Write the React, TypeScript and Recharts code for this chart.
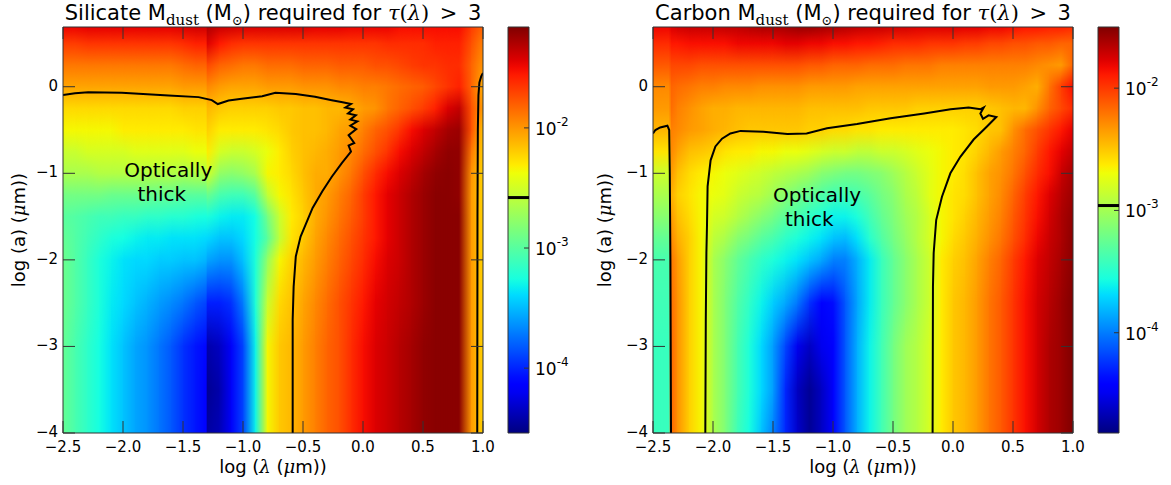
import React from "react";
import {
  ComposedChart,
  XAxis,
  YAxis,
  Line,
  ReferenceArea,
  ReferenceLine,
  ReferenceDot,
} from "recharts";

const FONT = "'DejaVu Sans', Verdana, sans-serif";
const MATH = "'DejaVu Serif', 'Liberation Serif', serif";
const EDGE = "#333333";

// ---- axes: log(lambda / um) and log(a / um) ----
const X_TICKS = [-2.5, -2.0, -1.5, -1.0, -0.5, 0.0, 0.5, 1.0];
const Y_TICKS = [-4, -3, -2, -1, 0];
const X_DOMAIN: [number, number] = [-2.5, 1.0];
const Y_DOMAIN: [number, number] = [-4, 0.69];
const CBAR_TICKS = [-4, -3, -2];

// grain size rows (log a), top to bottom
const A_ROWS = [0.7, 0.5, 0.25, 0, -0.25, -0.5, -0.75, -1, -1.25, -1.5, -1.75, -2, -2.5, -3, -3.5, -4];

// ---- silicate: log10 M_dust (Msun) ----
const SIL_LAMBDA = [
  -2.5, -2.4, -2.3, -2.2, -2.1, -2.0, -1.9, -1.8, -1.7, -1.6, -1.5, -1.4, -1.31,
  -1.3, -1.2, -1.1, -1.0, -0.9, -0.8, -0.7, -0.6,
  -0.5, -0.4, -0.3, -0.2, -0.1, 0.0, 0.1, 0.2, 0.3, 0.4, 0.5, 0.6, 0.7, 0.8,
  0.9, 1.0,
];
const SIL_LOGM = [
  [-1.48,-1.48,-1.46,-1.46,-1.46,-1.46,-1.46,-1.46,-1.46,-1.46,-1.43,-1.40,-1.40, -1.30,-1.38,-1.40,-1.43,-1.43,-1.43,-1.43,-1.43, -1.43,-1.46,-1.46,-1.46,-1.48,-1.48,-1.48,-1.48,-1.51,-1.51,-1.51,-1.51,-1.51,-1.51, -1.68,-1.82],
  [-1.68,-1.68,-1.65,-1.65,-1.65,-1.65,-1.65,-1.65,-1.65,-1.65,-1.62,-1.58,-1.58, -1.43,-1.55,-1.62,-1.65,-1.65,-1.65,-1.65,-1.65, -1.65,-1.65,-1.65,-1.65,-1.65,-1.65,-1.65,-1.62,-1.62,-1.62,-1.62,-1.58,-1.58,-1.58, -1.75,-1.92],
  [-1.89,-1.89,-1.89,-1.89,-1.89,-1.89,-1.89,-1.89,-1.89,-1.89,-1.85,-1.82,-1.82, -1.72,-1.82,-1.85,-1.89,-1.89,-1.85,-1.85,-1.85, -1.82,-1.82,-1.82,-1.79,-1.79,-1.79,-1.75,-1.75,-1.72,-1.68,-1.65,-1.65,-1.62,-1.62, -1.82,-1.99],
  [-2.05,-2.05,-2.05,-2.05,-2.05,-2.05,-2.05,-2.05,-2.05,-2.05,-2.02,-2.02,-2.02, -1.95,-2.02,-2.05,-2.05,-2.05,-2.02,-2.02,-2.02, -1.99,-1.99,-1.99,-1.95,-1.95,-1.92,-1.92,-1.89,-1.85,-1.82,-1.79,-1.72,-1.65,-1.58, -1.82,-2.08],
  [-2.24,-2.24,-2.24,-2.24,-2.24,-2.24,-2.24,-2.24,-2.24,-2.24,-2.21,-2.21,-2.21, -2.12,-2.18,-2.21,-2.21,-2.21,-2.21,-2.18,-2.18, -2.15,-2.15,-2.12,-2.12,-2.08,-2.02,-1.99,-1.89,-1.82,-1.75,-1.68,-1.58,-1.43,-1.35, -1.75,-2.02],
  [-2.35,-2.35,-2.35,-2.35,-2.35,-2.31,-2.31,-2.31,-2.31,-2.31,-2.31,-2.28,-2.28, -2.21,-2.31,-2.31,-2.31,-2.31,-2.28,-2.24,-2.18, -2.15,-2.15,-2.12,-2.05,-2.02,-1.92,-1.82,-1.75,-1.65,-1.51,-1.43,-1.35,-1.27,-1.24, -1.75,-2.15],
  [-2.53,-2.53,-2.48,-2.48,-2.48,-2.48,-2.44,-2.44,-2.44,-2.44,-2.44,-2.39,-2.39, -2.31,-2.48,-2.53,-2.53,-2.48,-2.39,-2.31,-2.21, -2.15,-2.12,-2.08,-2.02,-1.95,-1.85,-1.75,-1.65,-1.51,-1.43,-1.35,-1.27,-1.21,-1.21, -1.89,-2.18],
  [-2.66,-2.66,-2.66,-2.62,-2.62,-2.62,-2.62,-2.62,-2.62,-2.62,-2.66,-2.62,-2.62, -2.48,-2.75,-2.79,-2.75,-2.66,-2.35,-2.31,-2.24, -2.15,-2.08,-2.08,-1.99,-1.89,-1.75,-1.62,-1.51,-1.43,-1.35,-1.27,-1.21,-1.19,-1.21, -1.99,-2.21],
  [-2.88,-2.88,-2.88,-2.88,-2.92,-2.92,-2.92,-2.92,-2.95,-2.95,-2.99,-2.99,-2.99, -2.92,-3.06,-3.10,-3.10,-2.99,-2.57,-2.35,-2.28, -2.18,-2.08,-2.02,-1.92,-1.82,-1.68,-1.55,-1.46,-1.38,-1.30,-1.24,-1.19,-1.19,-1.21, -2.02,-2.21],
  [-2.99,-3.02,-3.06,-3.10,-3.10,-3.13,-3.13,-3.17,-3.17,-3.20,-3.20,-3.24,-3.26, -3.24,-3.31,-3.34,-3.34,-3.27,-2.88,-2.53,-2.31, -2.21,-2.08,-1.99,-1.89,-1.79,-1.68,-1.55,-1.46,-1.38,-1.30,-1.24,-1.19,-1.19,-1.19, -2.02,-2.21],
  [-2.95,-3.02,-3.10,-3.17,-3.24,-3.27,-3.31,-3.34,-3.34,-3.37,-3.37,-3.37,-3.40, -3.40,-3.47,-3.47,-3.40,-3.27,-2.99,-2.57,-2.28, -2.18,-2.05,-1.95,-1.85,-1.75,-1.65,-1.55,-1.46,-1.38,-1.30,-1.24,-1.19,-1.19,-1.19, -2.02,-2.21],
  [-2.92,-3.02,-3.13,-3.24,-3.31,-3.37,-3.40,-3.40,-3.44,-3.44,-3.47,-3.47,-3.52, -3.57,-3.63,-3.63,-3.47,-3.24,-2.75,-2.35,-2.21, -2.12,-2.02,-1.92,-1.82,-1.72,-1.62,-1.51,-1.43,-1.38,-1.30,-1.24,-1.19,-1.19,-1.19, -2.02,-2.21],
  [-2.92,-3.02,-3.13,-3.24,-3.34,-3.40,-3.47,-3.53,-3.60,-3.66,-3.73,-3.83,-3.90, -4.02,-4.02,-3.96,-3.70,-3.24,-2.53,-2.24,-2.15, -2.05,-1.95,-1.85,-1.75,-1.65,-1.55,-1.46,-1.40,-1.35,-1.30,-1.24,-1.19,-1.19,-1.19, -2.02,-2.21],
  [-2.95,-3.06,-3.17,-3.27,-3.37,-3.47,-3.57,-3.63,-3.73,-3.83,-3.96,-4.05,-4.10, -4.41,-4.35,-4.18,-3.89,-3.31,-2.35,-2.18,-2.12, -2.02,-1.92,-1.82,-1.75,-1.62,-1.51,-1.43,-1.38,-1.32,-1.27,-1.21,-1.19,-1.19,-1.19, -2.02,-2.21],
  [-2.95,-3.06,-3.17,-3.27,-3.37,-3.47,-3.57,-3.63,-3.73,-3.83,-3.96,-4.05,-4.12, -4.48,-4.41,-4.18,-3.89,-3.31,-2.35,-2.18,-2.12, -2.02,-1.92,-1.82,-1.75,-1.62,-1.51,-1.43,-1.38,-1.32,-1.27,-1.21,-1.19,-1.19,-1.19, -2.02,-2.21],
  [-2.95,-3.06,-3.17,-3.27,-3.37,-3.47,-3.57,-3.63,-3.73,-3.83,-3.96,-4.05,-4.12, -4.44,-4.38,-4.18,-3.89,-3.31,-2.35,-2.18,-2.12, -2.02,-1.92,-1.82,-1.75,-1.62,-1.51,-1.43,-1.38,-1.32,-1.27,-1.21,-1.19,-1.19,-1.19, -2.02,-2.21],
];
const SIL_RANGE: [number, number] = [-4.54, -1.16];
const SIL_LIMIT = -2.58;

// ---- carbon ----
const CAR_LAMBDA = [
  -2.5, -2.37, -2.35, -2.3, -2.2, -2.1, -2.0, -1.9, -1.8, -1.7, -1.6, -1.5,
  -1.4, -1.3, -1.2, -1.1, -1.0, -0.9, -0.8, -0.7, -0.6, -0.5, -0.4, -0.3,
  -0.2, -0.1, 0.0, 0.1, 0.2, 0.3, 0.4, 0.5, 0.6, 0.7, 0.8, 0.9, 1.0,
];
const CAR_LOGM = [
  [-1.82,-1.82,-1.77,-1.74,-1.71,-1.71,-1.71,-1.69,-1.69,-1.66,-1.63,-1.63,-1.61,-1.58,-1.58,-1.61,-1.63,-1.66,-1.69,-1.71,-1.71,-1.74,-1.74,-1.77,-1.77,-1.77,-1.77,-1.79,-1.79,-1.82,-1.82,-1.85,-1.88,-1.88,-1.91,-1.91,-1.95],
  [-1.95,-1.95,-1.88,-1.88,-1.85,-1.85,-1.85,-1.85,-1.82,-1.82,-1.82,-1.82,-1.79,-1.79,-1.82,-1.82,-1.85,-1.85,-1.88,-1.88,-1.91,-1.95,-1.95,-1.95,-1.98,-1.98,-1.98,-2.01,-2.01,-2.05,-2.05,-2.08,-2.08,-2.11,-2.11,-2.15,-2.15],
  [-2.11,-2.11,-2.05,-2.05,-2.05,-2.08,-2.08,-2.08,-2.08,-2.08,-2.08,-2.08,-2.08,-2.08,-2.11,-2.11,-2.15,-2.15,-2.15,-2.18,-2.18,-2.18,-2.21,-2.21,-2.21,-2.25,-2.25,-2.25,-2.25,-2.25,-2.25,-2.25,-2.25,-2.28,-2.31,-2.34,-2.15],
  [-2.28,-2.28,-2.15,-2.18,-2.21,-2.25,-2.25,-2.28,-2.28,-2.28,-2.31,-2.31,-2.31,-2.31,-2.34,-2.34,-2.34,-2.34,-2.37,-2.37,-2.37,-2.37,-2.37,-2.37,-2.37,-2.37,-2.37,-2.37,-2.37,-2.34,-2.34,-2.34,-2.37,-2.41,-2.21,-2.01,-1.85],
  [-2.34,-2.34,-2.18,-2.25,-2.31,-2.37,-2.41,-2.41,-2.44,-2.44,-2.44,-2.44,-2.44,-2.44,-2.47,-2.47,-2.47,-2.47,-2.47,-2.50,-2.50,-2.50,-2.50,-2.53,-2.53,-2.53,-2.53,-2.53,-2.53,-2.50,-2.47,-2.44,-2.44,-2.31,-2.15,-2.05,-1.95],
  [-2.44,-2.44,-2.25,-2.28,-2.34,-2.37,-2.41,-2.44,-2.47,-2.50,-2.50,-2.50,-2.50,-2.50,-2.53,-2.53,-2.57,-2.57,-2.60,-2.60,-2.63,-2.63,-2.63,-2.63,-2.63,-2.63,-2.63,-2.60,-2.57,-2.50,-2.47,-2.31,-2.18,-2.08,-1.98,-1.88,-1.79],
  [-2.60,-2.60,-2.28,-2.37,-2.47,-2.50,-2.53,-2.60,-2.63,-2.63,-2.67,-2.67,-2.71,-2.71,-2.75,-2.80,-2.84,-2.84,-2.89,-2.89,-2.84,-2.84,-2.80,-2.75,-2.71,-2.67,-2.63,-2.60,-2.53,-2.44,-2.34,-2.25,-2.15,-2.01,-1.88,-1.79,-1.69],
  [-2.84,-2.84,-2.34,-2.47,-2.57,-2.63,-2.67,-2.71,-2.75,-2.80,-2.84,-2.89,-2.93,-2.97,-3.02,-3.11,-3.15,-3.19,-3.19,-3.15,-3.11,-3.02,-2.93,-2.84,-2.75,-2.67,-2.63,-2.57,-2.47,-2.37,-2.31,-2.21,-2.08,-1.95,-1.85,-1.71,-1.61],
  [-2.97,-2.97,-2.41,-2.53,-2.60,-2.67,-2.71,-2.75,-2.84,-2.89,-2.93,-3.02,-3.11,-3.19,-3.26,-3.33,-3.40,-3.40,-3.37,-3.30,-3.19,-3.11,-2.97,-2.89,-2.75,-2.67,-2.60,-2.57,-2.47,-2.37,-2.28,-2.15,-2.01,-1.88,-1.77,-1.66,-1.58],
  [-3.11,-3.11,-2.34,-2.47,-2.57,-2.67,-2.80,-2.84,-2.93,-3.02,-3.11,-3.19,-3.30,-3.37,-3.47,-3.54,-3.61,-3.61,-3.54,-3.40,-3.26,-3.15,-3.02,-2.93,-2.80,-2.67,-2.60,-2.53,-2.44,-2.34,-2.25,-2.11,-1.98,-1.85,-1.74,-1.63,-1.55],
  [-3.26,-3.26,-2.28,-2.41,-2.53,-2.67,-2.89,-2.97,-3.11,-3.19,-3.30,-3.37,-3.47,-3.54,-3.61,-3.67,-3.77,-3.80,-3.67,-3.50,-3.33,-3.19,-3.06,-2.93,-2.80,-2.67,-2.57,-2.50,-2.41,-2.31,-2.21,-2.08,-1.95,-1.82,-1.71,-1.63,-1.53],
  [-3.37,-3.37,-2.21,-2.34,-2.53,-2.67,-2.97,-3.11,-3.26,-3.37,-3.47,-3.54,-3.61,-3.67,-3.77,-3.86,-3.99,-3.99,-3.83,-3.64,-3.43,-3.26,-3.11,-2.97,-2.84,-2.63,-2.53,-2.47,-2.37,-2.25,-2.15,-2.01,-1.88,-1.77,-1.69,-1.61,-1.53],
  [-3.40,-3.40,-2.18,-2.31,-2.53,-2.67,-2.97,-3.15,-3.33,-3.47,-3.61,-3.74,-3.86,-4.02,-4.25,-4.41,-4.37,-4.12,-3.86,-3.64,-3.43,-3.26,-3.11,-2.97,-2.84,-2.63,-2.50,-2.44,-2.34,-2.21,-2.11,-1.98,-1.85,-1.74,-1.66,-1.58,-1.50],
  [-3.43,-3.43,-2.15,-2.31,-2.53,-2.67,-2.97,-3.15,-3.37,-3.54,-3.70,-3.90,-4.18,-4.50,-4.63,-4.50,-4.41,-4.12,-3.83,-3.61,-3.40,-3.19,-3.02,-2.93,-2.80,-2.63,-2.50,-2.44,-2.34,-2.21,-2.11,-1.98,-1.85,-1.74,-1.63,-1.58,-1.50],
  [-3.43,-3.43,-2.15,-2.31,-2.53,-2.67,-2.97,-3.15,-3.37,-3.54,-3.70,-3.90,-4.28,-4.63,-4.76,-4.63,-4.44,-4.12,-3.83,-3.61,-3.40,-3.19,-3.02,-2.93,-2.80,-2.63,-2.50,-2.44,-2.34,-2.21,-2.11,-1.98,-1.85,-1.74,-1.63,-1.58,-1.50],
  [-3.43,-3.43,-2.15,-2.31,-2.53,-2.67,-2.97,-3.15,-3.40,-3.57,-3.77,-3.99,-4.28,-4.60,-4.76,-4.63,-4.44,-4.12,-3.83,-3.61,-3.40,-3.19,-3.02,-2.93,-2.80,-2.63,-2.50,-2.44,-2.34,-2.21,-2.11,-1.98,-1.85,-1.74,-1.63,-1.58,-1.50],
];
const CAR_RANGE: [number, number] = [-4.82, -1.5];
const CAR_LIMIT = -2.96;

// ---- tau = 3 contours, [log lambda, log a] ----
const SIL_CONTOUR_MAIN: [number, number][] = [
  [-2.5, -0.096], [-2.4, -0.076], [-2.29, -0.065], [-2.01, -0.07], [-1.62, -0.1], [-1.37, -0.12],
  [-1.26, -0.155], [-1.21, -0.2], [-1.12, -0.16], [-1.01, -0.14], [-0.84, -0.11], [-0.73, -0.07],
  [-0.56, -0.085], [-0.4, -0.115], [-0.26, -0.155], [-0.17, -0.18], [-0.1, -0.2], [-0.147, -0.24],
  [-0.083, -0.26], [-0.125, -0.31], [-0.06, -0.33], [-0.106, -0.38], [-0.047, -0.4], [-0.106, -0.45],
  [-0.056, -0.49], [-0.12, -0.56], [-0.073, -0.65], [-0.12, -0.68], [-0.1, -0.75], [-0.175, -0.88],
  [-0.26, -1.04], [-0.34, -1.21], [-0.42, -1.4], [-0.48, -1.6], [-0.52, -1.73], [-0.56, -1.96],
  [-0.578, -2.31], [-0.586, -2.69], [-0.586, -3.08], [-0.586, -4.0],
];
const SIL_CONTOUR_EDGE: [number, number][] = [
  [1.0, 0.16], [0.985, 0.12], [0.97, 0.05], [0.962, -0.1], [0.957, -0.5], [0.954, -1.5], [0.952, -4.0],
];
const CAR_CONTOUR_STRIP: [number, number][] = [
  [-2.5, -0.54], [-2.48, -0.5], [-2.44, -0.47], [-2.38, -0.45], [-2.365, -0.5], [-2.36, -1.0],
  [-2.355, -2.0], [-2.35, -4.0],
];
const CAR_CONTOUR_MAIN: [number, number][] = [
  [-2.064, -4.0], [-2.06, -2.69], [-2.055, -1.92], [-2.05, -1.6], [-2.045, -1.15], [-2.02, -0.85],
  [-1.98, -0.69], [-1.925, -0.6], [-1.855, -0.54], [-1.77, -0.51], [-1.58, -0.52], [-1.38, -0.545],
  [-1.22, -0.54], [-1.05, -0.48], [-0.8, -0.43], [-0.52, -0.365], [-0.24, -0.31], [-0.02, -0.26],
  [0.13, -0.24], [0.23, -0.26], [0.256, -0.24], [0.228, -0.31], [0.25, -0.37], [0.297, -0.33],
  [0.361, -0.35], [0.283, -0.46], [0.172, -0.61], [0.061, -0.81], [-0.022, -1.0], [-0.092, -1.27],
  [-0.14, -1.54], [-0.161, -1.92], [-0.167, -2.31], [-0.17, -4.0],
];

const SIL_NOTES = [
  { x: -1.99, y: -1.04, text: "Optically" },
  { x: -1.88, y: -1.32, text: "thick" },
];
const CAR_NOTES = [
  { x: -1.5, y: -1.33, text: "Optically" },
  { x: -1.4, y: -1.61, text: "thick" },
];

// ---- matplotlib jet ----
const JET_R = [[0, 0], [0.35, 0], [0.66, 1], [0.89, 1], [1, 0.5]];
const JET_G = [[0, 0], [0.125, 0], [0.375, 1], [0.64, 1], [0.91, 0], [1, 0]];
const JET_B = [[0, 0.5], [0.11, 1], [0.34, 1], [0.65, 0], [1, 0]];

function seg(pts: number[][], t: number) {
  for (let i = 1; i < pts.length; i++) {
    if (t <= pts[i][0]) {
      const [t0, v0] = pts[i - 1];
      const [t1, v1] = pts[i];
      return v0 + ((v1 - v0) * (t - t0)) / (t1 - t0);
    }
  }
  return pts[pts.length - 1][1];
}

function jet(t: number) {
  const c = Math.max(0, Math.min(1, t));
  const k = (v: number) => Math.round(v * 255);
  return `rgb(${k(seg(JET_R, c))},${k(seg(JET_G, c))},${k(seg(JET_B, c))})`;
}

const clamp01 = (v: number) => Math.max(0, Math.min(1, v));

function HeatDefs({ id, lambdas, logm, range }: any) {
  const [vmin, vmax] = range;
  const span = Y_DOMAIN[1] - Y_DOMAIN[0];
  const bar = [];
  for (let i = 0; i <= 50; i++) bar.push(i / 50);
  return (
    <svg width={0} height={0} style={{ position: "absolute" }}>
      <defs>
        <linearGradient id={`${id}-ramp`} x1="0" y1="0" x2="1" y2="0">
          <stop offset="0" stopColor="#000" />
          <stop offset="1" stopColor="#fff" />
        </linearGradient>
        <mask id={`${id}-fade`} maskContentUnits="objectBoundingBox">
          <rect x="0" y="0" width="1" height="1" fill={`url(#${id}-ramp)`} />
        </mask>
        {lambdas.map((_: number, j: number) => (
          <linearGradient key={j} id={`${id}-c${j}`} x1="0" y1="0" x2="0" y2="1">
            {A_ROWS.map((a, i) => (
              <stop
                key={i}
                offset={clamp01((Y_DOMAIN[1] - a) / span)}
                stopColor={jet((logm[i][j] - vmin) / (vmax - vmin))}
              />
            ))}
          </linearGradient>
        ))}
        <linearGradient id={`${id}-bar`} x1="0" y1="1" x2="0" y2="0">
          {bar.map((t) => (
            <stop key={t} offset={t} stopColor={jet(t)} />
          ))}
        </linearGradient>
      </defs>
    </svg>
  );
}

const CellColumn = ({ x, y, width, height, id, j, last }: any) => {
  const w = width + (last ? 0 : 1);
  return (
    <g>
      <rect x={x} y={y} width={w} height={height} fill={`url(#${id}-c${j})`} />
      <rect x={x} y={y} width={w} height={height} fill={`url(#${id}-c${j + 1})`} mask={`url(#${id}-fade)`} />
    </g>
  );
};

const fmt = (v: number, d: number) => {
  const s = Math.abs(v) < 1e-9 ? (0).toFixed(d) : v.toFixed(d);
  return s.replace("-", "\u2212");
};

const BottomTick = (p: any) => (
  <g>
    <line x1={p.x} x2={p.x} y1={p.y} y2={p.y - 12} stroke={EDGE} />
    <text x={p.x} y={p.y + 19} textAnchor="middle" fontSize={15} fontFamily={FONT} fill="#000">
      {fmt(p.payload.value, 1)}
    </text>
  </g>
);
const TopTick = (p: any) => <line x1={p.x} x2={p.x} y1={p.y} y2={p.y + 12} stroke={EDGE} />;
const LeftTick = (p: any) => (
  <g>
    <line x1={p.x} x2={p.x + 12} y1={p.y} y2={p.y} stroke={EDGE} />
    <text x={p.x - 5} y={p.y + 4} textAnchor="end" fontSize={15} fontFamily={FONT} fill="#000">
      {fmt(p.payload.value, 0)}
    </text>
  </g>
);
const RightTick = (p: any) => <line x1={p.x} x2={p.x - 12} y1={p.y} y2={p.y} stroke={EDGE} />;
const CbarTick = (p: any) => (
  <g>
    <line x1={p.x - 5} x2={p.x} y1={p.y} y2={p.y} stroke={EDGE} />
    <text x={p.x + 6} y={p.y + 7} fontSize={17} fontFamily={FONT} fill="#000">
      10
      <tspan dy={-9} fontSize={12}>{`-${-p.payload.value}`}</tspan>
    </text>
  </g>
);

function Panel({ id, left, lambdas, contours, notes }: any) {
  const last = lambdas.length - 2;
  return (
    <div style={{ position: "absolute", left, top: 0 }}>
      <ComposedChart width={560} height={485} margin={{ top: 17, right: 67, bottom: 22, left: 23 }}>
        {lambdas.slice(0, -1).map((x1: number, j: number) => (
          <ReferenceArea
            key={j}
            xAxisId="b"
            yAxisId="l"
            x1={x1}
            x2={lambdas[j + 1]}
            y1={Y_DOMAIN[0]}
            y2={Y_DOMAIN[1]}
            ifOverflow="visible"
            shape={(p: any) => <CellColumn {...p} id={id} j={j} last={j === last} />}
          />
        ))}
        {contours.map((c: [number, number][], k: number) => (
          <Line
            key={k}
            xAxisId="b"
            yAxisId="l"
            data={c.map(([x, y]) => ({ x, y }))}
            dataKey="y"
            type="linear"
            stroke="#000"
            strokeWidth={2}
            dot={false}
            activeDot={false}
            isAnimationActive={false}
          />
        ))}
        {notes.map((n: any, k: number) => (
          <ReferenceDot
            key={k}
            xAxisId="b"
            yAxisId="l"
            x={n.x}
            y={n.y}
            r={0}
            ifOverflow="visible"
            shape={(p: any) => (
              <text x={p.cx} y={p.cy} fontSize={20} fontFamily={FONT} fill="#000">
                {n.text}
              </text>
            )}
          />
        ))}
        <XAxis xAxisId="b" type="number" dataKey="x" domain={X_DOMAIN} ticks={X_TICKS} interval={0}
          allowDataOverflow height={30} tickSize={0} tickMargin={0} tickLine={false}
          axisLine={{ stroke: EDGE }} tick={<BottomTick />} />
        <XAxis xAxisId="t" orientation="top" type="number" dataKey="x" domain={X_DOMAIN} ticks={X_TICKS}
          interval={0} allowDataOverflow height={10} tickSize={0} tickMargin={0} tickLine={false}
          axisLine={{ stroke: EDGE }} tick={<TopTick />} />
        <YAxis yAxisId="l" type="number" domain={Y_DOMAIN} ticks={Y_TICKS} interval={0}
          allowDataOverflow width={40} tickSize={0} tickMargin={0} tickLine={false}
          axisLine={{ stroke: EDGE }} tick={<LeftTick />} />
        <YAxis yAxisId="r" orientation="right" type="number" domain={Y_DOMAIN} ticks={Y_TICKS}
          interval={0} allowDataOverflow width={10} tickSize={0} tickMargin={0} tickLine={false}
          axisLine={{ stroke: EDGE }} tick={<RightTick />} />
      </ComposedChart>
    </div>
  );
}

const BAR_X: [number, number] = [0, 1];

function ColorBar({ id, left, range, limit }: any) {
  return (
    <div style={{ position: "absolute", left, top: 0 }}>
      <ComposedChart width={100} height={485} margin={{ top: 27, right: 1, bottom: 52, left: 28 }}>
        <ReferenceArea xAxisId="cb" yAxisId="cb" x1={BAR_X[0]} x2={BAR_X[1]} y1={range[0]} y2={range[1]}
          fill={`url(#${id}-bar)`} fillOpacity={1} stroke={EDGE} strokeWidth={1} ifOverflow="visible" />
        <ReferenceLine xAxisId="cb" yAxisId="cb" y={limit} stroke="#000" strokeWidth={3} ifOverflow="visible" />
        <XAxis xAxisId="cb" type="number" dataKey="x" domain={BAR_X} allowDataOverflow hide />
        <YAxis yAxisId="cb" type="number" orientation="right" domain={range} ticks={CBAR_TICKS} interval={0}
          allowDataOverflow width={50} tickSize={0} tickMargin={0} tickLine={false} axisLine={false}
          tick={<CbarTick />} />
      </ComposedChart>
    </div>
  );
}

function Title({ cx, name }: { cx: number; name: string }) {
  const sub = { fontFamily: MATH, fontSize: 15, position: "relative" as const, top: 5 };
  const it = { fontFamily: MATH, fontStyle: "italic" as const };
  return (
    <div style={{ position: "absolute", left: cx - 300, top: 0, width: 600, textAlign: "center",
      fontSize: 21, lineHeight: "26px", whiteSpace: "nowrap" }}>
      {name} M<span style={sub}>dust</span> (M<span style={{ ...sub, fontSize: 13 }}>⊙</span>) required for{" "}
      <span style={it}>τ</span>
      <span style={{ fontFamily: MATH }}>(</span>
      <span style={it}>λ</span>
      <span style={{ fontFamily: MATH }}>)</span>
      {"\u2002"}
      <span style={{ fontFamily: MATH }}>&gt;</span>
      {"\u2002"}3
    </div>
  );
}

function XLabel({ cx }: { cx: number }) {
  const it = { fontFamily: MATH, fontStyle: "italic" as const };
  return (
    <div style={{ position: "absolute", left: cx - 150, top: 456, width: 300, textAlign: "center",
      fontSize: 18, lineHeight: "22px", whiteSpace: "nowrap" }}>
      log (<span style={it}>λ</span> (<span style={it}>μ</span>m))
    </div>
  );
}

function YLabel({ cx }: { cx: number }) {
  const it = { fontFamily: MATH, fontStyle: "italic" as const };
  return (
    <div style={{ position: "absolute", left: cx, top: 230, transform: "translate(-50%, -50%) rotate(-90deg)",
      fontSize: 18, lineHeight: "22px", whiteSpace: "nowrap" }}>
      log (a) (<span style={it}>μ</span>m))
    </div>
  );
}

export default function App() {
  return (
    <div style={{ position: "absolute", left: 0, top: 0, width: 1171, height: 485, background: "#fff",
      fontFamily: FONT, color: "#000", overflow: "hidden" }}>
      <HeatDefs id="sil" lambdas={SIL_LAMBDA} logm={SIL_LOGM} range={SIL_RANGE} />
      <HeatDefs id="car" lambdas={CAR_LAMBDA} logm={CAR_LOGM} range={CAR_RANGE} />

      <Panel id="sil" left={0} lambdas={SIL_LAMBDA} contours={[SIL_CONTOUR_MAIN, SIL_CONTOUR_EDGE]} notes={SIL_NOTES} />
      <ColorBar id="sil" left={480} range={SIL_RANGE} limit={SIL_LIMIT} />
      <Panel id="car" left={590} lambdas={CAR_LAMBDA} contours={[CAR_CONTOUR_STRIP, CAR_CONTOUR_MAIN]} notes={CAR_NOTES} />
      <ColorBar id="car" left={1070} range={CAR_RANGE} limit={CAR_LIMIT} />

      <Title cx={273} name="Silicate" />
      <Title cx={863} name="Carbon" />
      <XLabel cx={273} />
      <XLabel cx={863} />
      <YLabel cx={19} />
      <YLabel cx={605} />
    </div>
  );
}
